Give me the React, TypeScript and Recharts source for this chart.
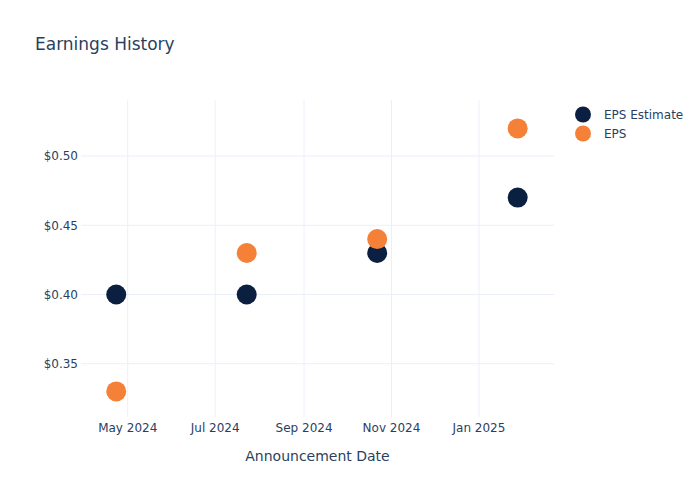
import React from 'react';
import { ScatterChart, Scatter, XAxis, YAxis, CartesianGrid } from 'recharts';

const announcementDates = ['2024-04-23', '2024-07-23', '2024-10-22', '2025-01-28'];
const epsEstimate = [0.4, 0.4, 0.43, 0.47];
const epsActual = [0.33, 0.43, 0.44, 0.52];

const xTickDates = ['2024-05-01', '2024-07-01', '2024-09-01', '2024-11-01', '2025-01-01'];
const xTickLabels = ['May 2024', 'Jul 2024', 'Sep 2024', 'Nov 2024', 'Jan 2025'];
const yTicks = [0.35, 0.4, 0.45, 0.5];

const xDomain = [new Date('2024-03-29T10:00:00Z').getTime(), new Date('2025-02-22T08:00:00Z').getTime()];
const yDomain = [0.3115, 0.5405];

const NAVY = '#0b1f41';
const ORANGE = '#f58138';
const TEXT = '#2a3f5f';
const FONT = '"DejaVu Sans", Verdana, sans-serif';

const estimateData = announcementDates.map((d, i) => ({ date: new Date(d).getTime(), value: epsEstimate[i] }));
const epsData = announcementDates.map((d, i) => ({ date: new Date(d).getTime(), value: epsActual[i] }));
const xTicks = xTickDates.map((d) => new Date(d).getTime());

const dot = (color: string) => (props: any) => <circle cx={props.cx} cy={props.cy} r={10} fill={color} />;

const legendItems = [
  { label: 'EPS Estimate', color: NAVY },
  { label: 'EPS', color: ORANGE },
];

export default function App() {
  return (
    <div style={{ position: 'absolute', left: 0, top: 0, width: 700, height: 500, background: '#fff', fontFamily: FONT }}>
      <div style={{ position: 'absolute', left: 35, top: 33, fontSize: 17, color: TEXT, lineHeight: '22px' }}>Earnings History</div>
      <div style={{ position: 'absolute', left: 574, top: 105, fontSize: 12, color: TEXT }}>
        {legendItems.map((it) => (
          <div key={it.label} style={{ display: 'flex', alignItems: 'center', height: 19 }}>
            <svg width={20} height={19}>
              <circle cx={9} cy={9.5} r={8} fill={it.color} />
            </svg>
            <span style={{ marginLeft: 10 }}>{it.label}</span>
          </div>
        ))}
      </div>
      <ScatterChart width={700} height={500} margin={{ top: 100, right: 146, bottom: 0, left: 0 }}>
        <CartesianGrid stroke="#ebf0f8" strokeWidth={1} syncWithTicks />
        <XAxis
          type="number"
          dataKey="date"
          scale="time"
          domain={xDomain}
          ticks={xTicks}
          tickFormatter={(v: number) => xTickLabels[xTicks.indexOf(v)]}
          axisLine={false}
          tickLine={false}
          tickSize={2}
          tickMargin={4}
          height={83}
          tick={{ fill: TEXT, fontSize: 12, fontFamily: FONT }}
          label={{ value: 'Announcement Date', position: 'insideBottom', offset: 39, fill: TEXT, fontSize: 14, fontFamily: FONT }}
          allowDataOverflow
        />
        <YAxis
          type="number"
          dataKey="value"
          domain={yDomain}
          ticks={yTicks}
          tickFormatter={(v: number) => `$${v.toFixed(2)}`}
          axisLine={false}
          tickLine={false}
          tickSize={1}
          tickMargin={2}
          width={81}
          tick={{ fill: TEXT, fontSize: 12, fontFamily: FONT }}
          allowDataOverflow
        />
        <Scatter name="EPS Estimate" data={estimateData} fill={NAVY} shape={dot(NAVY)} isAnimationActive={false} />
        <Scatter name="EPS" data={epsData} fill={ORANGE} shape={dot(ORANGE)} isAnimationActive={false} />
      </ScatterChart>
    </div>
  );
}
